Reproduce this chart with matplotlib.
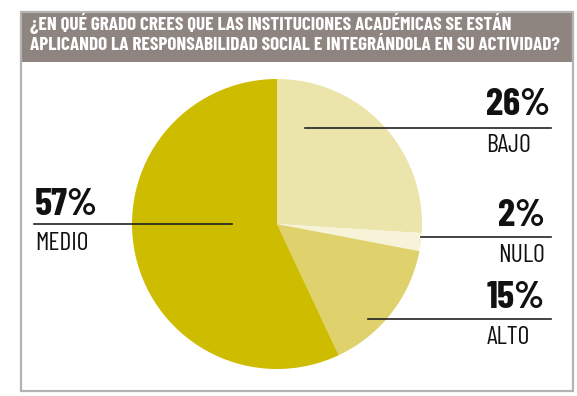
import matplotlib
matplotlib.use('Agg')
import matplotlib.pyplot as plt
from matplotlib.patches import Rectangle

W, H = 577, 396
TITLE = ['¿EN QUÉ GRADO CREES QUE LAS INSTITUCIONES ACADÉMICAS SE ESTÁN',
         'APLICANDO LA RESPONSABILIDAD SOCIAL E INTEGRÁNDOLA EN SU ACTIVIDAD?']
labels = ['BAJO', 'NULO', 'ALTO', 'MEDIO']
values = [26, 2, 15, 57]
colors = ['#ece5ab', '#f7f3d8', '#dfd26c', '#cdbc00']
# label anchor (x, number y, name y, line y, line start x, line end x) in image px
lab_pos = {
    'BAJO':  (486, 105, 145, 128, 305, 551),
    'NULO':  (498, 216, 255, 237, 421, 551),
    'ALTO':  (487, 298, 338, 319, 368, 551),
    'MEDIO': (35, 205, 243, 224, 34, 232),
}
FONT = ['Barlow Condensed', 'Roboto Condensed', 'DejaVu Sans']

def Y(y):
    return H - y

fig = plt.figure(figsize=(W / 100, H / 100), dpi=100)
ax = fig.add_axes([0, 0, 1, 1])

ax.pie(values, colors=colors, startangle=90, counterclock=False,
       center=(277, Y(224)), radius=145, wedgeprops=dict(linewidth=0))
ax.set_xlim(0, W); ax.set_ylim(0, H); ax.set_aspect('auto'); ax.axis('off')

# frame and header band
ax.add_patch(Rectangle((21, Y(391)), 552, 379, facecolor='none', edgecolor='#b3b3b3', lw=1.6, zorder=5))
ax.add_patch(Rectangle((21, Y(62)), 552, 50, facecolor='#8f8580', edgecolor='none', zorder=4))
for i, line in enumerate(TITLE):
    ax.text(30, Y(23 + 23 * i), line, color='white', fontsize=13.8, fontweight='bold',
            family=FONT, va='center', ha='left', zorder=6)

for lab, v in zip(labels, values):
    x, yn, yl, yline, x0, x1 = lab_pos[lab]
    ax.text(x, Y(yn), f'{v}%', fontsize=28, fontweight='bold', family=FONT,
            va='center', ha='left', color='#111111', zorder=6)
    ax.text(x, Y(yl), lab, fontsize=18.5, family=FONT, va='center', ha='left', color='#111111', zorder=6)
    ax.plot([x0, x1], [Y(yline), Y(yline)], color='#222222', lw=1.2, zorder=6)

fig.savefig('out.png', dpi=100)
